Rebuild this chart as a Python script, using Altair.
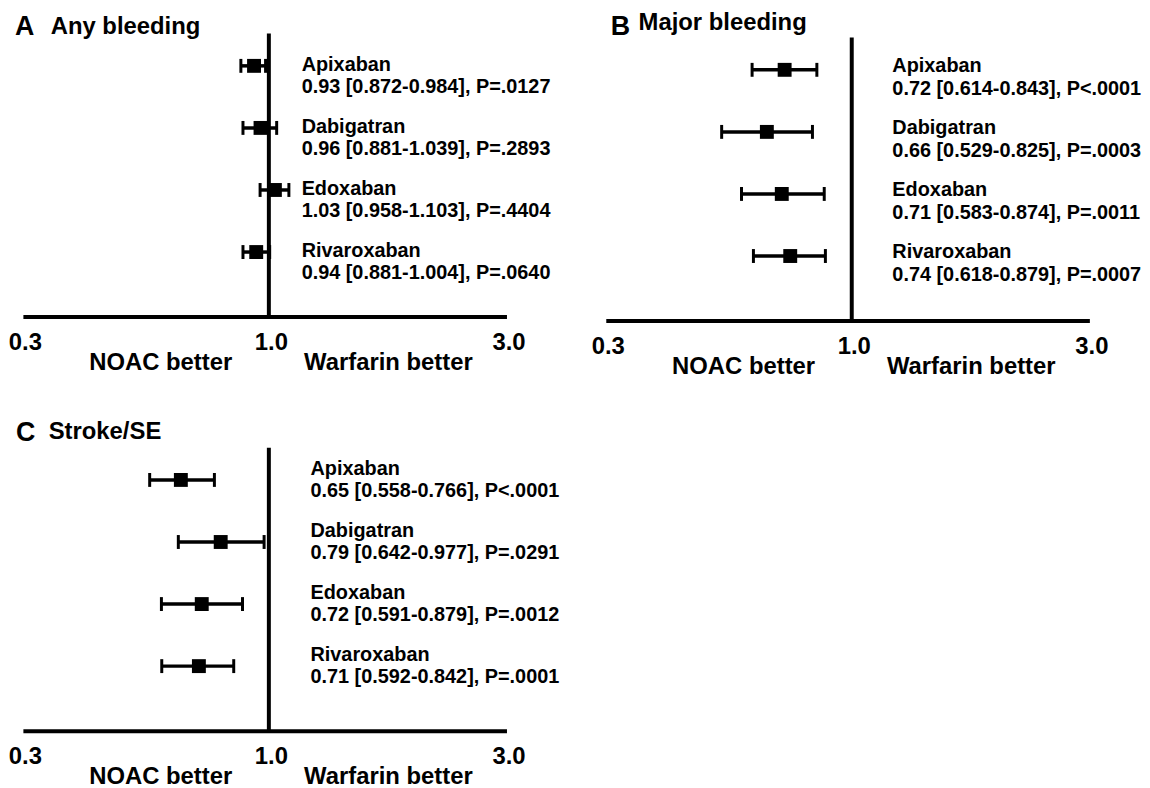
import altair as alt
import pandas as pd

# ---------------- data ----------------
drugs = ["Apixaban", "Dabigatran", "Edoxaban", "Rivaroxaban"]

panel_letters = ["A", "B", "C"]
panel_titles = ["Any bleeding", "Major bleeding", "Stroke/SE"]

hr_a = [0.93, 0.96, 1.03, 0.94]
lo_a = [0.872, 0.881, 0.958, 0.881]
hi_a = [0.984, 1.039, 1.103, 1.004]
p_a = ["=.0127", "=.2893", "=.4404", "=.0640"]

hr_b = [0.72, 0.66, 0.71, 0.74]
lo_b = [0.614, 0.529, 0.583, 0.618]
hi_b = [0.843, 0.825, 0.874, 0.879]
p_b = ["<.0001", "=.0003", "=.0011", "=.0007"]

hr_c = [0.65, 0.79, 0.72, 0.71]
lo_c = [0.558, 0.642, 0.591, 0.592]
hi_c = [0.766, 0.977, 0.879, 0.842]
p_c = ["<.0001", "=.0291", "=.0012", "=.0001"]

x_ticks = [0.3, 1.0, 3.2]
x_tick_labels = ["0.3", "1.0", "3.0"]
reference_value = [1.0]
side_labels = ["NOAC better", "Warfarin better"]
side_label_x = [0.589, 1.795]

# ---------------- layout / style ----------------
FONT = "Liberation Sans"
X_DOMAIN = [0.3, 3.2]
W = 487
ROW_BOTTOM = 4.04

panel_cfg = [
    # text_x, name_dy, stat_dy, y_top, height, letter(dx,dy), title(dx,dy)
    dict(text_x=1.174, name_dy=5, stat_dy=27, y_top=-0.52, height=285,
         letter=(-8, 1), title=(28, 0)),
    dict(text_x=1.22, name_dy=2, stat_dy=25, y_top=-0.584, height=289,
         letter=(5, 1), title=(33, -4)),
    dict(text_x=1.226, name_dy=-5, stat_dy=17, y_top=-0.52, height=285,
         letter=(-7, -7), title=(26, -9)),
]

label_expr = ""
for v, t in zip(x_ticks[:-1], x_tick_labels[:-1]):
    label_expr += f"abs(datum.value - {v}) < 0.01 ? '{t}' : "
label_expr += f"'{x_tick_labels[-1]}'"

x_axis = alt.Axis(values=x_ticks, labelExpr=label_expr, domainColor="black",
                  domainWidth=4, ticks=False, tickSize=0, labelFontSize=24,
                  labelFont=FONT, labelFontWeight="bold", labelColor="black",
                  labelPadding=14, labelOffset=2, labelFlush=False, labelOverlap=False,
                  grid=False, title=None)
x_scale = alt.Scale(type="log", domain=X_DOMAIN, nice=False)


def X(field, **kw):
    return alt.X(field, type="quantitative", scale=x_scale, axis=x_axis, **kw)


def panel(letter, title, hr, lo, hi, pv, cfg):
    df = pd.DataFrame({
        "drug": drugs,
        "row": list(range(len(drugs))),
        "hr": hr, "lo": lo, "hi": hi,
        "stat": [f"{h:.2f} [{l:.3f}-{u:.3f}], P{p}" for h, l, u, p in zip(hr, lo, hi, pv)],
        "tx": [cfg["text_x"]] * len(drugs),
    })
    y_scale = alt.Scale(domain=[cfg["y_top"], ROW_BOTTOM], reverse=True, nice=False, zero=False)
    Y = lambda f: alt.Y(f, type="quantitative", scale=y_scale, axis=None)

    base = alt.Chart(df)
    ref = alt.Chart(pd.DataFrame({"ref": reference_value, "y1": [-0.52], "y2": [ROW_BOTTOM]})).mark_rule(
        color="black", strokeWidth=4).encode(x=X("ref"), y=Y("y1"), y2="y2")
    bars = base.mark_rule(color="black", strokeWidth=3.5).encode(x=X("lo"), x2="hi", y=Y("row"))
    cap_lo = base.mark_tick(color="black", orient="vertical", size=14, thickness=3, opacity=1).encode(
        x=X("lo"), y=Y("row"))
    cap_hi = base.mark_tick(color="black", orient="vertical", size=14, thickness=3, opacity=1).encode(
        x=X("hi"), y=Y("row"))
    pts = base.mark_square(color="black", size=196, opacity=1).encode(x=X("hr"), y=Y("row"))
    names = base.mark_text(align="left", baseline="alphabetic", dy=cfg["name_dy"], fontSize=20,
                           fontWeight="bold", font=FONT, color="black").encode(
        x=X("tx"), y=Y("row"), text="drug:N")
    stats = base.mark_text(align="left", baseline="alphabetic", dy=cfg["stat_dy"], fontSize=20,
                           fontWeight="bold", font=FONT, color="black").encode(
        x=X("tx"), y=Y("row"), text="stat:N")
    sides = alt.Chart(pd.DataFrame({"lab": side_labels, "sx": side_label_x})).mark_text(
        align="center", baseline="alphabetic", fontSize=24, fontWeight="bold", font=FONT,
        color="black").encode(x=X("sx"), y=alt.value(cfg["height"] + 54), text="lab:N")
    let = alt.Chart(pd.DataFrame({"t": [letter]})).mark_text(
        align="left", baseline="alphabetic", fontSize=27, fontWeight="bold", font=FONT,
        color="black").encode(x=alt.value(cfg["letter"][0]), y=alt.value(cfg["letter"][1]), text="t:N")
    tit = alt.Chart(pd.DataFrame({"t": [title]})).mark_text(
        align="left", baseline="alphabetic", fontSize=24, fontWeight="bold", font=FONT,
        color="black").encode(x=alt.value(cfg["title"][0]), y=alt.value(cfg["title"][1]), text="t:N")
    return alt.layer(ref, bars, cap_lo, cap_hi, pts, names, stats, sides, let, tit).properties(
        width=W, height=cfg["height"])


pA = panel(panel_letters[0], panel_titles[0], hr_a, lo_a, hi_a, p_a, panel_cfg[0])
pB = panel(panel_letters[1], panel_titles[1], hr_b, lo_b, hi_b, p_b, panel_cfg[1])
pC = panel(panel_letters[2], panel_titles[2], hr_c, lo_c, hi_c, p_c, panel_cfg[2])

chart = alt.concat(pA, pB, pC, columns=2, spacing={"row": 128, "column": 100},
                   bounds="flush").properties(
    padding={"left": 0, "top": 0, "right": 0, "bottom": 0},
    background="white",
).configure_view(strokeWidth=0)

chart.save("out.html", embed_options={"renderer": "svg", "actions": False})
